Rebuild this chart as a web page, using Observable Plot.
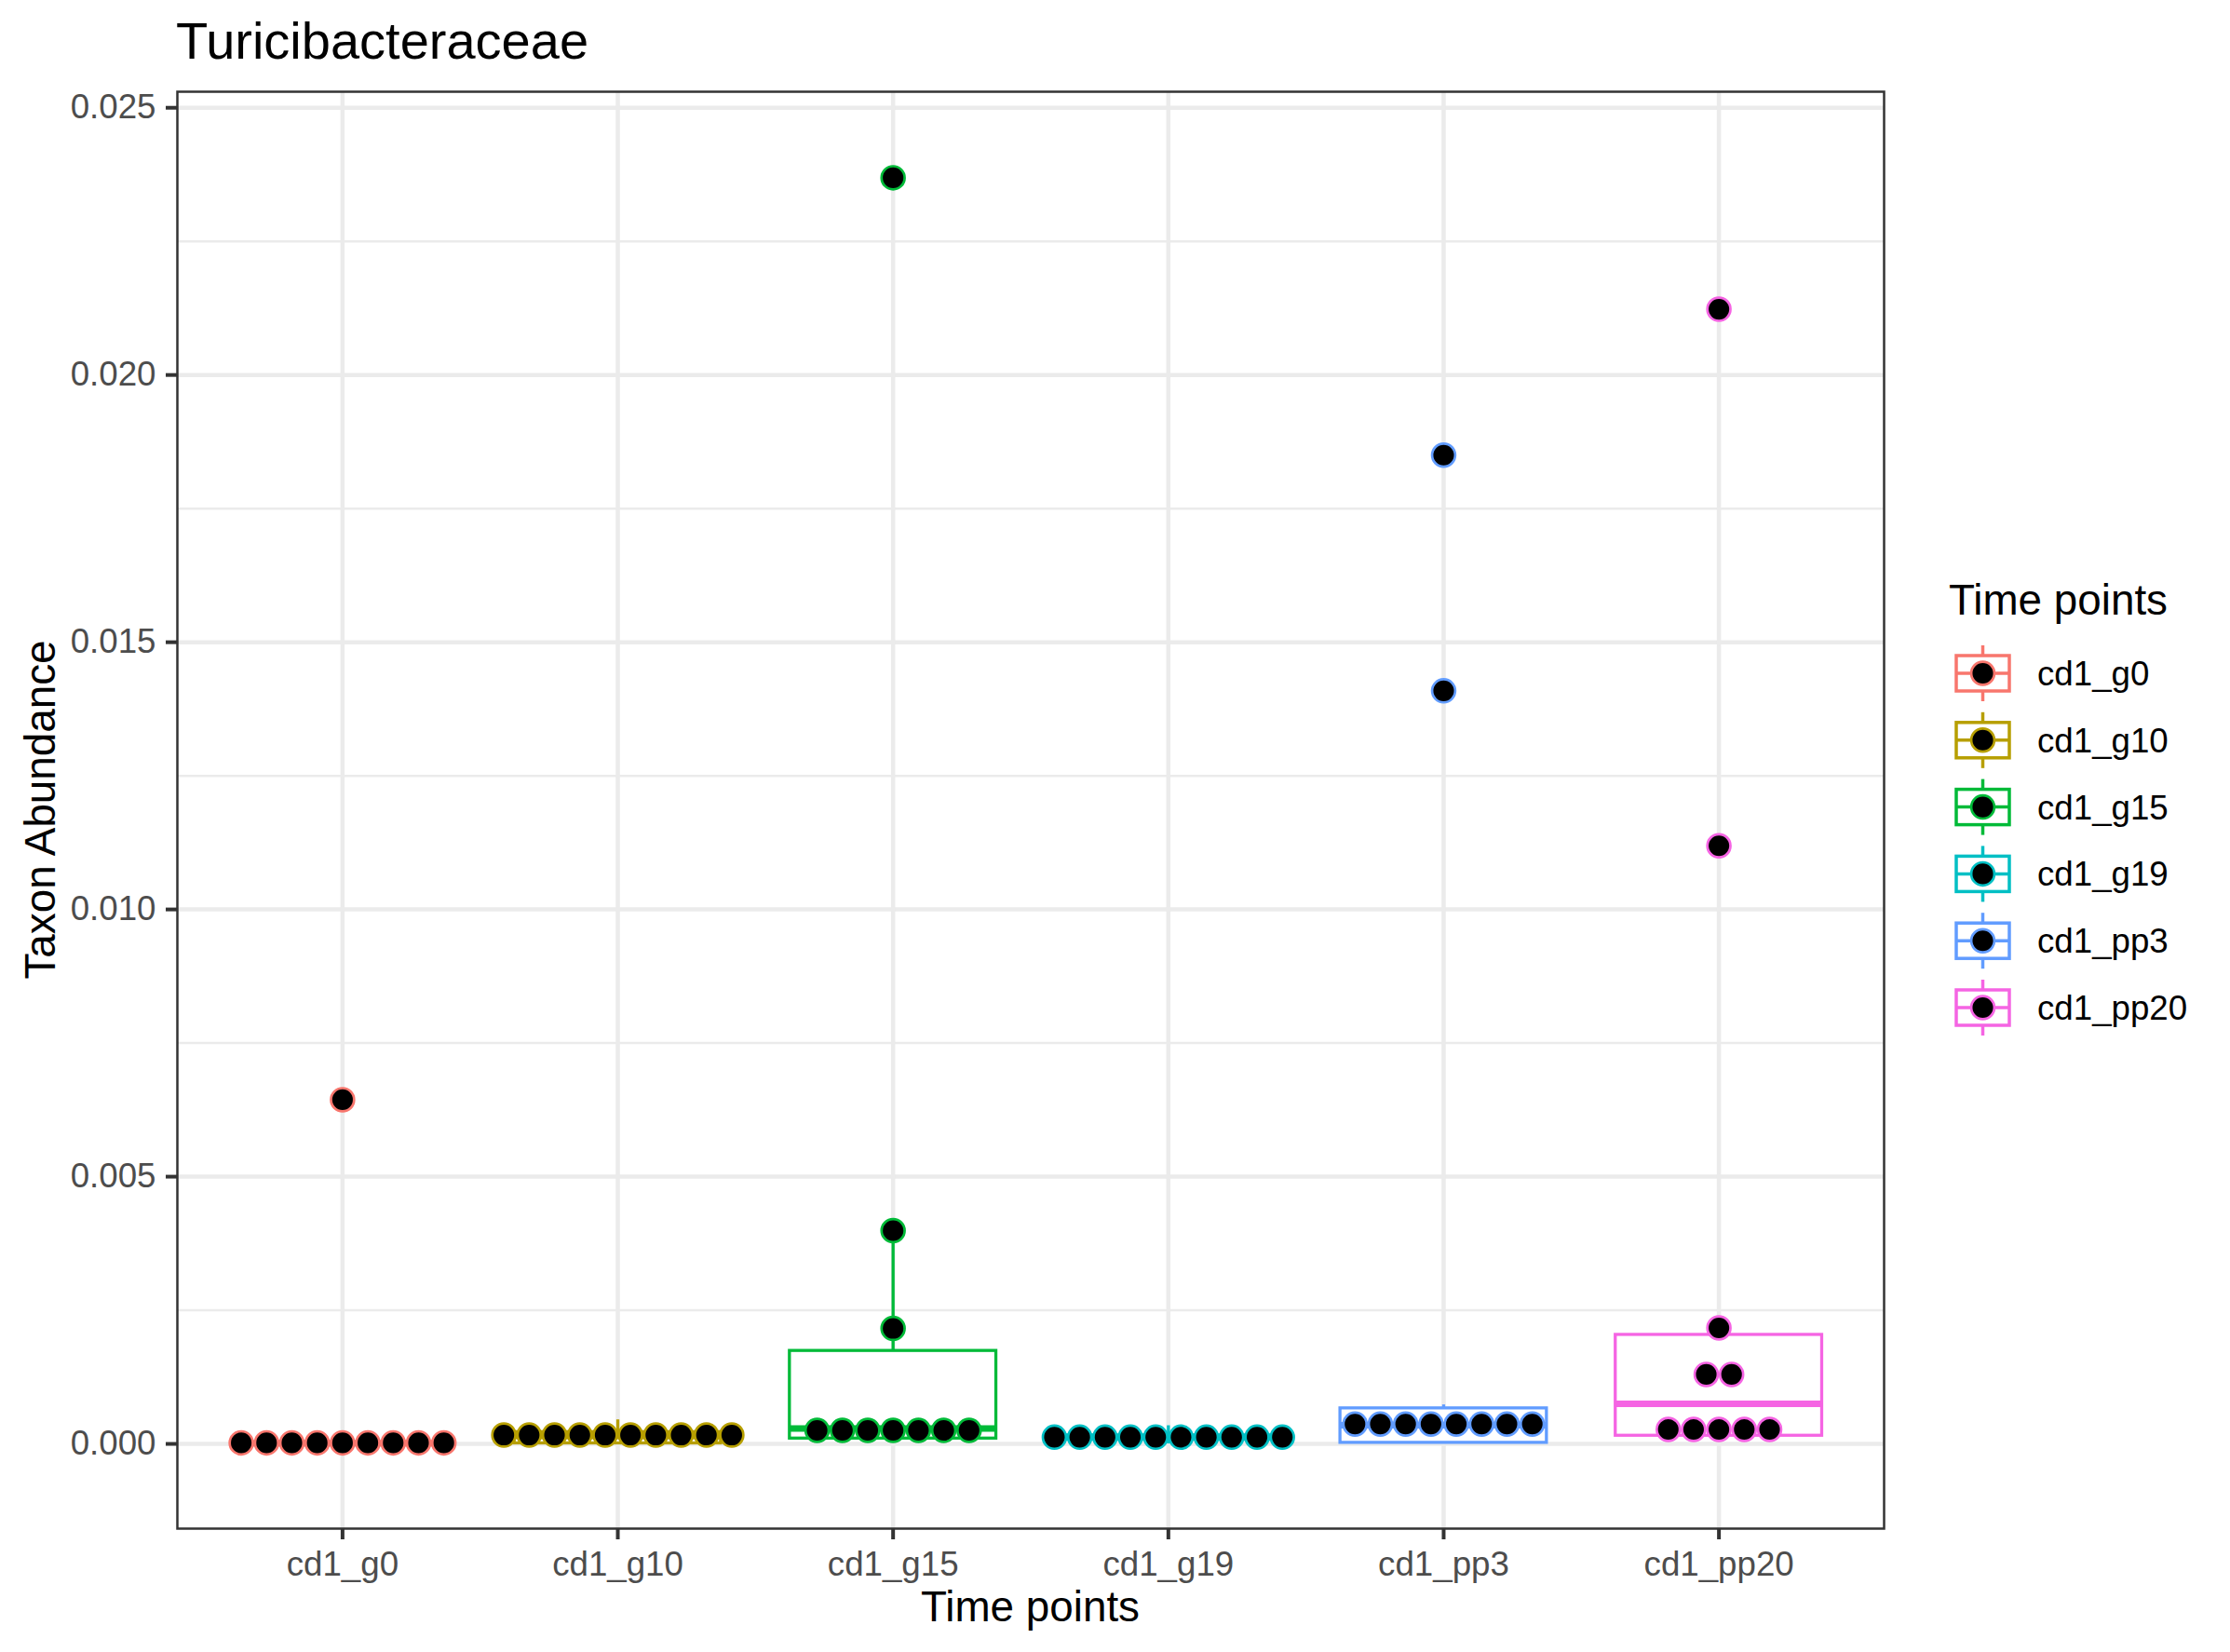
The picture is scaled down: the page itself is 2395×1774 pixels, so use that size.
<!DOCTYPE html>
<html>
<head>
<meta charset="utf-8">
<script src="https://cdn.jsdelivr.net/npm/d3@7"></script>
<script src="https://cdn.jsdelivr.net/npm/@observablehq/plot@0.6"></script>
<style>
  html, body { margin: 0; padding: 0; background: white; }
  #wrap { position: relative; width: 2395px; height: 1774px; font-family: 'Liberation Sans', Arial, Helvetica, sans-serif; }
  #title { position: relative; height: 80px; }
  #title span { position: absolute; left: 189px; top: 16px; font-size: 56px; line-height: 1; color: #000; white-space: nowrap; }
  svg { display: block; }
</style>
</head>
<body>
<div id="wrap">
  <div id="title"><span>Turicibacteraceae</span></div>
  <div id="chart"></div>
</div>
<script>
// ---- data ----
const groups = ["cd1_g0", "cd1_g10", "cd1_g15", "cd1_g19", "cd1_pp3", "cd1_pp20"];
const palette = ["#F8766D", "#B79F00", "#00BA38", "#00BFC4", "#619CFF", "#F564E3"];

// dot-plot values (as stacked in the picture)
const g0Dots   = [0.00002, 0.00002, 0.00002, 0.00002, 0.00002, 0.00002, 0.00002, 0.00002, 0.00002, 0.00644];
const g10Dots  = [0.000165, 0.000165, 0.000165, 0.000165, 0.000165, 0.000165, 0.000165, 0.000165, 0.000165, 0.000165];
const g15Dots  = [0.000253, 0.000253, 0.000253, 0.000253, 0.000253, 0.000253, 0.000253, 0.00216, 0.00399, 0.02369];
const g19Dots  = [0.000125, 0.000125, 0.000125, 0.000125, 0.000125, 0.000125, 0.000125, 0.000125, 0.000125, 0.000125];
const pp3Dots  = [0.00037, 0.00037, 0.00037, 0.00037, 0.00037, 0.00037, 0.00037, 0.00037, 0.01409, 0.01850];
const pp20Dots = [0.00027, 0.00027, 0.00027, 0.00027, 0.00027, 0.0013, 0.0013, 0.00217, 0.01119, 0.02123];

// box-plot statistics per group
const whiskerLow  = [0,        0,        0.00002,  0,        0.00001,  0.0001];
const boxQ1       = [0,        0.00001,  0.0001,   0.00008,  0.00002,  0.000153];
const boxMedian   = [0.00001,  0.00015,  0.000287, 0.00012,  0.00035,  0.000749];
const boxQ3       = [0.00003,  0.00022,  0.00174,  0.00016,  0.000665, 0.00204];
const whiskerHigh = [0.00004,  0.00045,  0.00399,  0.00034,  0.00073,  0.00217];

const yMajor = [0, 0.005, 0.010, 0.015, 0.020, 0.025];
const yMinor = [0.0025, 0.0075, 0.0125, 0.0175, 0.0225];

// ---- layout ----
const W = 2395, H = 1694, titleH = 80;
const mL = 190, mR = 372, mT = 18, mB = 133;
const xPad = 0.6;
const pxPerUnit = (W - mL - mR) / (groups.length - 1 + 2 * xPad);
const dotR = 12.4;
const dotStep = 27.2 / pxPerUnit;
const boxHalf = 0.375;
const font = "'Liberation Sans', Arial, Helvetica, sans-serif";

const dotSeries = [g0Dots, g10Dots, g15Dots, g19Dots, pp3Dots, pp20Dots];
const dots = [];
dotSeries.forEach((vals, gi) => {
  const counts = d3.rollup(vals, v => v.length, v => v);
  const seen = new Map();
  for (const v of vals) {
    const n = counts.get(v);
    const k = seen.get(v) ?? 0;
    seen.set(v, k + 1);
    dots.push({group: groups[gi], x: gi + (k - (n - 1) / 2) * dotStep, y: v});
  }
});

const boxes = groups.map((g, i) => ({
  group: g, i, lo: whiskerLow[i], q1: boxQ1[i], med: boxMedian[i], q3: boxQ3[i], hi: whiskerHigh[i]
}));

const svg = Plot.plot({
  width: W, height: H,
  marginLeft: mL, marginRight: mR, marginTop: mT, marginBottom: mB,
  style: {fontFamily: font, background: "white"},
  x: {type: "linear", domain: [-xPad, groups.length - 1 + xPad]},
  y: {domain: [-0.001585, 0.0253]},
  color: {domain: groups, range: palette},
  marks: [
    Plot.ruleY(yMinor, {stroke: "#EBEBEB", strokeWidth: 2.5}),
    Plot.ruleY(yMajor, {stroke: "#EBEBEB", strokeWidth: 4.5}),
    Plot.ruleX(d3.range(groups.length), {stroke: "#EBEBEB", strokeWidth: 4.5}),
    Plot.ruleX(boxes, {x: "i", y1: "lo", y2: "q1", stroke: "group", strokeWidth: 3.3}),
    Plot.ruleX(boxes, {x: "i", y1: "q3", y2: "hi", stroke: "group", strokeWidth: 3.3}),
    Plot.rect(boxes, {x1: d => d.i - boxHalf, x2: d => d.i + boxHalf, y1: "q1", y2: "q3",
      fill: "white", stroke: "group", strokeWidth: 3.3}),
    Plot.ruleY(boxes, {y: "med", x1: d => d.i - boxHalf, x2: d => d.i + boxHalf, stroke: "group", strokeWidth: 7}),
    Plot.dot(dots, {x: "x", y: "y", r: dotR, fill: "black", stroke: "group", strokeWidth: 2.7}),
    Plot.frame({stroke: "#333333", strokeWidth: 2.5}),
    Plot.axisY(yMajor, {tickSize: 12, tickPadding: 11, tickFormat: d3.format(".3f"),
      fontSize: 36.7, stroke: "#333333", fill: "#4D4D4D", strokeWidth: 4, label: null}),
    Plot.axisX(d3.range(groups.length), {tickSize: 12, tickPadding: 12, tickFormat: i => groups[i],
      fontSize: 36.7, stroke: "#333333", fill: "#4D4D4D", strokeWidth: 4, label: null})
  ]
});
document.getElementById("chart").appendChild(svg);

// ---- axis titles and legend ----
const s = d3.select(svg);
s.append("text")
  .attr("x", (mL + (W - mR)) / 2).attr("y", 1741 - titleH)
  .attr("text-anchor", "middle").attr("font-size", 45.8).attr("font-family", font).attr("fill", "black")
  .text("Time points");
s.append("text")
  .attr("transform", `translate(59, ${(mT + (H - mB)) / 2}) rotate(-90)`)
  .attr("text-anchor", "middle").attr("font-size", 45.8).attr("font-family", font).attr("fill", "black")
  .text("Taxon Abundance");

const lg = s.append("g").attr("font-family", font).attr("text-anchor", "start");
lg.append("text").attr("x", 2093).attr("y", 660 - titleH).attr("text-anchor", "start")
  .attr("font-size", 45.8).attr("fill", "black").text("Time points");
groups.forEach((g, i) => {
  const cy = 723 - titleH + 71.8 * i;
  const cx = 2129.5;
  const col = palette[i];
  const k = lg.append("g");
  k.append("line").attr("x1", cx).attr("x2", cx).attr("y1", cy - 30).attr("y2", cy + 30)
    .attr("stroke", col).attr("stroke-width", 3.5);
  k.append("rect").attr("x", 2101).attr("y", cy - 19).attr("width", 57).attr("height", 38)
    .attr("fill", "white").attr("stroke", col).attr("stroke-width", 3.5);
  k.append("line").attr("x1", 2101).attr("x2", 2158).attr("y1", cy).attr("y2", cy)
    .attr("stroke", col).attr("stroke-width", 3.5);
  k.append("circle").attr("cx", cx).attr("cy", cy).attr("r", dotR)
    .attr("fill", "black").attr("stroke", col).attr("stroke-width", 2.7);
  k.append("text").attr("x", 2188).attr("y", cy + 13).attr("text-anchor", "start")
    .attr("font-size", 36.7).attr("fill", "black").text(g);
});
</script>
</body>
</html>
